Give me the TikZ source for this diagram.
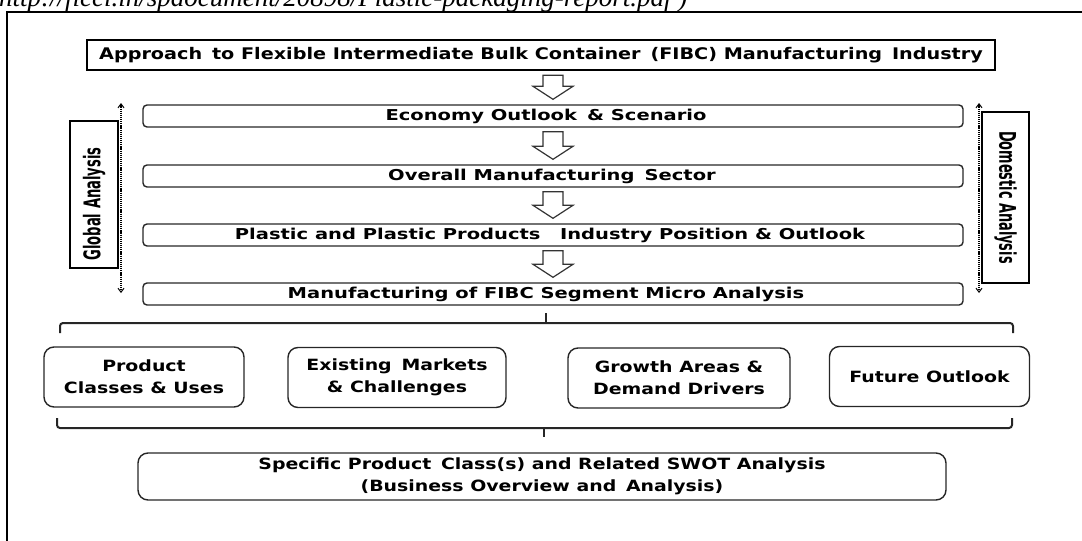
\documentclass[tikz,border=0pt]{standalone}
\usepackage{fontspec}
\setmainfont{DejaVu Sans}
\newfontfamily\srcfont{Liberation Serif}
\usetikzlibrary{calc,arrows.meta}
\newcommand{\wide}[2]{\scalebox{#1}[1]{#2}}
\tikzset{
  titlebox/.style={draw, line width=2.4pt, minimum width=908pt, minimum height=30pt, inner sep=0pt,
    font=\bfseries\fontsize{16}{18}\selectfont},
  stagebox/.style={draw=black!85, line width=1.4pt, rounded corners=4pt, minimum width=820pt,
    minimum height=22pt, inner sep=0pt, font=\bfseries\fontsize{15}{18}\selectfont},
  stagetext/.style={inner sep=0pt, font=\bfseries\fontsize{15}{18}\selectfont},
  topicbox/.style={draw=black!85, line width=1.4pt, rounded corners=10pt, minimum height=60pt,
    inner sep=0pt, align=center, font=\bfseries\fontsize{15.5}{22}\selectfont},
  sidebox/.style={draw, line width=1.3pt, inner sep=0pt},
  sidetext/.style={inner sep=0pt, font=\bfseries\fontsize{23}{23}\selectfont},
  hollow/.style={draw=black!80, line width=1.2pt, fill=white, line join=miter},
  scope/.style={line width=1.8pt, dash pattern=on 1.2pt off 0.9pt,
    {Straight Barb[length=4pt,width=6pt,line width=1pt]}-{Straight Barb[length=4pt,width=6pt,line width=1pt]}},
  bracket/.style={draw=black!85, line width=2pt, rounded corners=3pt},
}
\newcommand{\hollowarrow}[2]{%
  \path[hollow] let \p1=(#1.south), \p2=(#2.north) in
    (\x2-10pt,\y1-4pt) -- (\x2+10pt,\y1-4pt) -- (\x2+10pt,\y2+18pt) -- (\x2+20pt,\y2+18pt)
    -- (\x2,\y2+5pt) -- (\x2-20pt,\y2+18pt) -- (\x2-10pt,\y2+18pt) -- cycle;}
\begin{document}
\begin{tikzpicture}[x=1pt,y=-1pt]
\useasboundingbox (0,0) rectangle (1082,541);
\clip (0,0) rectangle (1082,541);

% source line (cut off at the top)
\node[anchor=base west, inner sep=0pt, font=\srcfont\itshape\fontsize{27}{27}\selectfont] (src) at (-1,6)
  {http://ficci.in/spdocument/20898/Plastic-packaging-report.pdf )};

% outer frame
\draw[line width=2pt] (7,560) -- (7,11.5) -- (1100,11.5);

% main chain
\node[titlebox] (title) at (541,55) {\wide{1.2}{Approach\, to Flexible Intermediate Bulk Container\, (FIBC) Manufacturing\, Industry}};
\node[stagebox] (econ) at (553,116) {};
\node[stagetext] (econtxt) at (546,116) {\wide{1.3}{Economy Outlook\, \& Scenario}};
\node[stagebox] (overall) at (553,176) {};
\node[stagetext] (overalltxt) at (552,176) {\wide{1.3}{Overall Manufacturing\, Sector}};
\node[stagebox] (plastic) at (553,235) {};
\node[stagetext] (plastictxt) at (550,235) {\wide{1.3}{Plastic and Plastic Products\quad Industry Position \& Outlook}};
\node[stagebox] (fibc) at (553,294) {};
\node[stagetext] (fibctxt) at (546,294) {\wide{1.3}{Manufacturing of FIBC Segment Micro Analysis}};

\hollowarrow{title}{econ}
\hollowarrow{econ}{overall}
\hollowarrow{overall}{plastic}
\hollowarrow{plastic}{fibc}

% side labels
\node[sidebox, minimum width=48pt, minimum height=147pt] (global) at (94,194.5) {};
\node[sidetext, rotate=90] (globaltxt) at (94,204) {\wide{0.57}{Global Analysis}};
\node[sidebox, minimum width=47pt, minimum height=171pt] (domestic) at (1005.5,197.5) {};
\node[sidetext, rotate=-90] (domestictxt) at (domestic.center) {\wide{0.56}{Domestic Analysis}};

\coordinate (gtop) at (121,103);
\coordinate (gbot) at (121,293);
\coordinate (dtop) at (979,103);
\coordinate (dbot) at (979,293);
\draw[scope] (gtop) -- (gbot);
\draw[scope] (dtop) -- (dbot);

% topics
\node[topicbox, minimum width=200pt] (t1) at (144,377) {\wide{1.22}{Product}\\\wide{1.22}{Classes \& Uses}};
\node[topicbox, minimum width=218pt] (t2) at (397,377.5) {\wide{1.22}{Existing\, Markets}\\\wide{1.22}{\& Challenges}};
\node[topicbox, minimum width=222pt] (t3) at (679,378) {\wide{1.22}{Growth Areas \&}\\\wide{1.22}{Demand Drivers}};
\node[topicbox, minimum width=200pt] (t4) at (929.5,376.5) {\wide{1.22}{Future Outlook}};

% brackets
\coordinate (btop) at (546,323);
\coordinate (btopL) at (60,333);
\coordinate (btopR) at (1013,333);
\draw[bracket] (btopL) -- (btopL |- btop) -- (btopR |- btop) -- (btopR);
\draw[bracket] (btop) -- (546,313);

\coordinate (bbot) at (544,428);
\coordinate (bbotL) at (57,418);
\coordinate (bbotR) at (1012,418);
\draw[bracket] (bbotL) -- (bbotL |- bbot) -- (bbotR |- bbot) -- (bbotR);
\draw[bracket] (bbot) -- (544,437);

% final
\node[topicbox, minimum width=808pt, minimum height=47pt] (swot) at (542,476.5)
  {\wide{1.22}{Specific Product\, Class(s) and Related SWOT Analysis}\\\wide{1.22}{(Business Overview and\, Analysis)}};
\end{tikzpicture}
\end{document}
